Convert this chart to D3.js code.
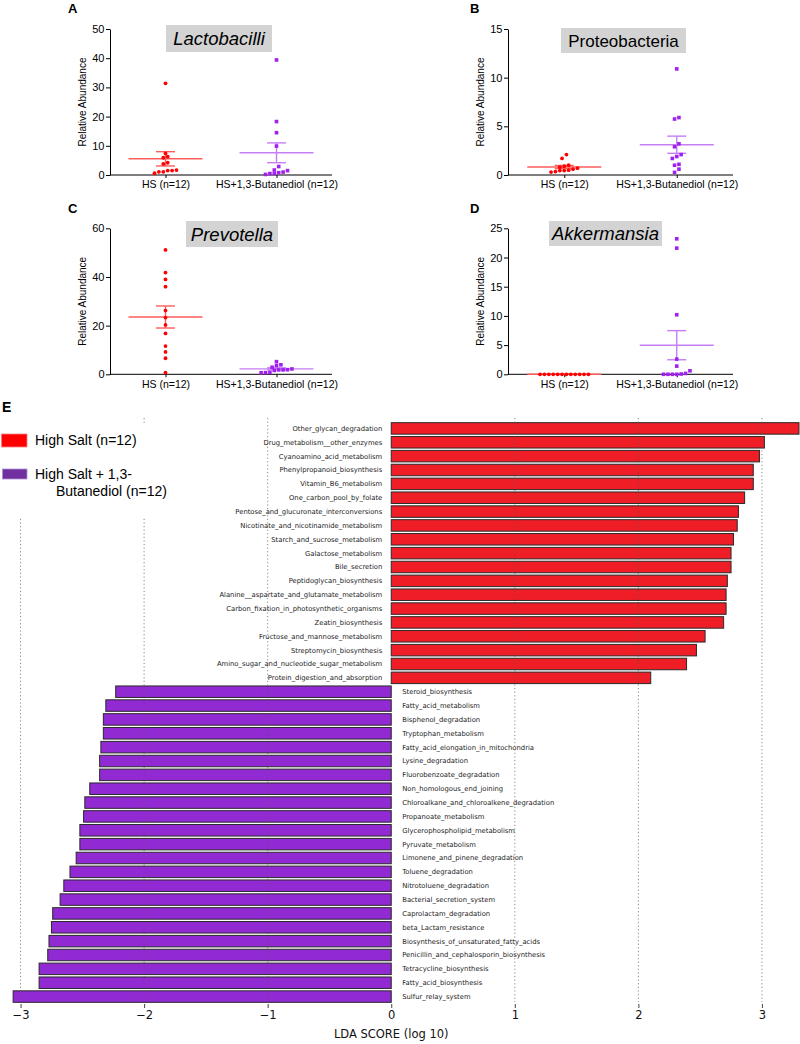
<!DOCTYPE html>
<html><head><meta charset="utf-8">
<script src="https://cdn.jsdelivr.net/npm/d3@7"></script>
<style>body{margin:0;background:#fff}svg{display:block}</style>
</head><body>
<svg id="c" width="800" height="1044"></svg>
<script>
// ---------------- DATA ----------------
const groupLabels = ["HS (n=12)", "HS+1,3-Butanediol (n=12)"];

const lactoHS  = [31.4, 7.4, 6.3, 5.9, 4.2, 3.8, 1.5, 1.1, 0.6, 1.1, 1.5, 1.7];
const lactoHSB = [39.4, 18.3, 14.5, 9.9, 2.9, 1.7, 1.0, 0.5, 0.2, 0.5, 0.8, 1.5];
const proteoHS  = [2.1, 1.7, 1.0, 0.9, 0.8, 0.7, 0.6, 0.5, 0.45, 0.35, 0.3, 0.45];
const proteoHSB = [10.9, 5.75, 5.9, 3.2, 2.9, 2.1, 1.9, 1.7, 1.1, 1.0, 0.6, 0.27];
const prevoHS  = [51.1, 41.8, 39.0, 36.0, 26.2, 23.3, 20.3, 16.8, 11.6, 9.2, 6.6, 0.7];
const prevoHSB = [5.2, 3.9, 3.6, 2.9, 2.2, 1.9, 1.8, 1.8, 1.6, 0.8, 0.7, 0.6];
const akkerHS  = [0, 0, 0, 0, 0, 0, 0, 0, 0, 0, 0, 0];
const akkerHSB = [23.2, 21.6, 10.2, 2.6, 1.4, 0.6, 0.05, 0, 0, 0, 0, 0.15];

const panelLetters = ["A", "B", "C", "D"];
const panelTitles = ["Lactobacilli", "Proteobacteria", "Prevotella", "Akkermansia"];
const panelYMax = [50, 15, 60, 25];
const panelTicks = [[0, 10, 20, 30, 40, 50], [0, 5, 10, 15], [0, 20, 40, 60], [0, 5, 10, 15, 20, 25]];
const yAxisTitle = "Relative Abundance";

const ldaRedNames = ["Other_glycan_degradation", "Drug_metabolism__other_enzymes", "Cyanoamino_acid_metabolism",
  "Phenylpropanoid_biosynthesis", "Vitamin_B6_metabolism", "One_carbon_pool_by_folate",
  "Pentose_and_glucuronate_interconversions", "Nicotinate_and_nicotinamide_metabolism",
  "Starch_and_sucrose_metabolism", "Galactose_metabolism", "Bile_secretion", "Peptidoglycan_biosynthesis",
  "Alanine__aspartate_and_glutamate_metabolism", "Carbon_fixation_in_photosynthetic_organisms",
  "Zeatin_biosynthesis", "Fructose_and_mannose_metabolism", "Streptomycin_biosynthesis",
  "Amino_sugar_and_nucleotide_sugar_metabolism", "Protein_digestion_and_absorption"];
const ldaRedScores = [3.30, 3.02, 2.98, 2.93, 2.93, 2.86, 2.81, 2.80, 2.77, 2.75, 2.75, 2.72, 2.71, 2.71, 2.69, 2.54, 2.47, 2.39, 2.10];

const ldaPurpleNames = ["Steroid_biosynthesis", "Fatty_acid_metabolism", "Bisphenol_degradation",
  "Tryptophan_metabolism", "Fatty_acid_elongation_in_mitochondria", "Lysine_degradation",
  "Fluorobenzoate_degradation", "Non_homologous_end_joining", "Chloroalkane_and_chloroalkene_degradation",
  "Propanoate_metabolism", "Glycerophospholipid_metabolism", "Pyruvate_metabolism",
  "Limonene_and_pinene_degradation", "Toluene_degradation", "Nitrotoluene_degradation",
  "Bacterial_secretion_system", "Caprolactam_degradation", "beta_Lactam_resistance",
  "Biosynthesis_of_unsaturated_fatty_acids", "Penicillin_and_cephalosporin_biosynthesis",
  "Tetracycline_biosynthesis", "Fatty_acid_biosynthesis", "Sulfur_relay_system"];
const ldaPurpleScores = [-2.23, -2.31, -2.33, -2.33, -2.35, -2.36, -2.36, -2.44, -2.48, -2.49, -2.52, -2.52,
  -2.55, -2.60, -2.65, -2.68, -2.74, -2.75, -2.77, -2.78, -2.85, -2.85, -3.06];

const ldaTicks = [-3, -2, -1, 0, 1, 2, 3];
const ldaAxisTitle = "LDA SCORE (log 10)";
const legendLabels = ["High Salt (n=12)", "High Salt + 1,3-", "Butanediol (n=12)"];

// ---------------- DRAW ----------------
const svg = d3.select("#c");
const SANS = "'Liberation Sans', Arial, sans-serif";
const DJV = "'DejaVu Sans', sans-serif";
const RED = "#ff0000", PURPLE = "#a020f0", RED_LINE = "#ff5c5c", PUR_LINE = "#c67ef6";

const panelData = [[lactoHS, lactoHSB], [proteoHS, proteoHSB], [prevoHS, prevoHSB], [akkerHS, akkerHSB]];
const layout = [
  {ax: 110, ar: 332, top: 29, bot: 175, lx: 68, ly: 13, box: [166, 25, 106, 27], fs: 18.5, italic: true},
  {ax: 508, ar: 733, top: 29, bot: 175, lx: 470, ly: 13, box: [561, 28, 125, 25], fs: 17, italic: false},
  {ax: 110, ar: 332, top: 228.3, bot: 374.3, lx: 68, ly: 213, box: [186, 221, 92, 26], fs: 18.5, italic: true},
  {ax: 508, ar: 733, top: 228.3, bot: 374.3, lx: 470, ly: 213, box: [549, 221, 113, 25], fs: 18.5, italic: true}
];

function swarm(vals, y, cx, thr, sp) {
  const pts = vals.map(v => ({v, py: y(v)})).sort((a, b) => b.py - a.py);
  const groups = []; let g = null;
  pts.forEach(p => { if (!g || g[0].py - p.py > thr) { g = [p]; groups.push(g); } else g.push(p); });
  groups.forEach(gr => gr.forEach((p, i) => p.px = cx + (i - (gr.length - 1) / 2) * sp));
  return pts;
}

panelData.forEach((pair, k) => {
  const L = layout[k];
  const g = svg.append("g");
  const y = d3.scaleLinear().domain([0, panelYMax[k]]).range([L.bot, L.top]);
  const x = d3.scalePoint().domain(groupLabels).range([L.ax, L.ar]).padding(0.5);

  // title box
  g.append("rect").attr("x", L.box[0]).attr("y", L.box[1]).attr("width", L.box[2]).attr("height", L.box[3]).attr("fill", "#d3d3d3");
  g.append("text").attr("x", L.box[0] + L.box[2] / 2).attr("y", L.box[1] + L.box[3] / 2 + L.fs * 0.36)
    .attr("text-anchor", "middle").attr("font-family", SANS).attr("font-size", L.fs)
    .attr("font-style", L.italic ? "italic" : "normal").attr("fill", "#000").text(panelTitles[k]);

  // letter
  g.append("text").attr("x", L.lx).attr("y", L.ly).attr("font-family", SANS).attr("font-weight", "bold")
    .attr("font-size", 13).text(panelLetters[k]);

  // y axis
  const ya = g.append("g").attr("transform", `translate(${L.ax},0)`)
    .call(d3.axisLeft(y).tickValues(panelTicks[k]).tickSize(4).tickSizeOuter(0).tickPadding(1.5));
  ya.selectAll("text").attr("font-family", SANS).attr("font-size", 11).attr("fill", "#000");
  ya.selectAll("line,path").attr("stroke", "#000");

  // x axis
  const xa = g.append("g").attr("transform", `translate(0,${L.bot})`)
    .call(d3.axisBottom(x).tickSize(3).tickSizeOuter(0).tickPadding(3));
  xa.select("path").attr("d", `M${L.ax},0H${L.ar}`).attr("stroke", "#000");
  xa.selectAll("line").attr("stroke", "#000");
  xa.selectAll("text").attr("font-family", SANS).attr("font-size", 10.5).attr("fill", "#000");

  // y title
  g.append("text").attr("transform", `translate(${L.ax - 24},${(L.top + L.bot) / 2}) rotate(-90)`)
    .attr("text-anchor", "middle").attr("font-family", SANS).attr("font-size", 10).text(yAxisTitle);

  // groups
  pair.forEach((vals, gi) => {
    const cx = x(groupLabels[gi]);
    const m = d3.mean(vals);
    const sem = (d3.deviation(vals) || 0) / Math.sqrt(vals.length);
    const lc = gi === 0 ? RED_LINE : PUR_LINE;
    const lg = g.append("g").attr("stroke", lc).attr("stroke-width", 1.4).attr("fill", "none");
    lg.append("line").attr("x1", cx - 37).attr("x2", cx + 37).attr("y1", y(m)).attr("y2", y(m));
    lg.append("line").attr("x1", cx).attr("x2", cx).attr("y1", y(m - sem)).attr("y2", y(m + sem));
    [m - sem, m + sem].forEach(v => lg.append("line").attr("x1", cx - 9.5).attr("x2", cx + 9.5).attr("y1", y(v)).attr("y2", y(v)));

    const pts = swarm(vals, y, cx, 4, 4.4);
    if (gi === 0) {
      g.selectAll(null).data(pts).join("circle").attr("cx", d => d.px).attr("cy", d => d.py).attr("r", 1.9).attr("fill", RED);
    } else {
      g.selectAll(null).data(pts).join("rect").attr("x", d => d.px - 1.8).attr("y", d => d.py - 1.8)
        .attr("width", 3.6).attr("height", 3.6).attr("fill", PURPLE);
    }
  });
});

// ---------------- PANEL E ----------------
const E = svg.append("g");
E.append("text").attr("x", 2).attr("y", 412).attr("font-family", SANS).attr("font-weight", "bold").attr("font-size", 14).text("E");

const names = ldaRedNames.concat(ldaPurpleNames);
const scores = ldaRedScores.concat(ldaPurpleScores);
const lx = d3.scaleLinear().domain([-3.1, 3.3]).range([8.2, 799]);
const ly = d3.scaleBand().domain(names).range([421.5, 1003.5]).paddingInner(0.17).paddingOuter(0.085);

E.selectAll(null).data(names).join("rect")
  .attr("x", (d, i) => lx(Math.min(0, scores[i])))
  .attr("width", (d, i) => Math.abs(lx(scores[i]) - lx(0)))
  .attr("y", d => ly(d)).attr("height", ly.bandwidth())
  .attr("fill", (d, i) => scores[i] > 0 ? "#ef1d26" : "#922ad3")
  .attr("stroke", "#2a2a2a").attr("stroke-width", 1);

E.selectAll(null).data(names).join("text")
  .attr("x", (d, i) => scores[i] > 0 ? lx(0) - 9 : lx(0) + 11)
  .attr("y", d => ly(d) + ly.bandwidth() / 2 + 2.4)
  .attr("text-anchor", (d, i) => scores[i] > 0 ? "end" : "start")
  .attr("font-family", DJV).attr("font-size", 6.8).attr("fill", "#222").text(d => d);

// grid
E.selectAll(null).data(ldaTicks.filter(t => t !== 0)).join("line")
  .attr("x1", d => lx(d)).attr("x2", d => lx(d)).attr("y1", 418).attr("y2", 1002)
  .attr("stroke", "#555").attr("stroke-opacity", 0.7).attr("stroke-width", 1).attr("stroke-dasharray", "1.2,2.4");

// axis
const eax = E.append("g").attr("transform", "translate(0,1004)")
  .call(d3.axisBottom(lx).tickValues(ldaTicks).tickSize(4).tickPadding(3).tickFormat(d3.format("d")));
eax.select("path").remove();
eax.selectAll("line").attr("stroke", "#444");
eax.selectAll("text").attr("font-family", DJV).attr("font-size", 11.5).attr("fill", "#111");
E.append("text").attr("x", lx(0)).attr("y", 1038).attr("text-anchor", "middle")
  .attr("font-family", DJV).attr("font-size", 11.5).attr("fill", "#111").text(ldaAxisTitle);

// legend (white background covers grid)
E.append("rect").attr("x", 0).attr("y", 416).attr("width", 140).attr("height", 102).attr("fill", "#fff");
E.append("rect").attr("x", 140).attr("y", 425).attr("width", 36).attr("height", 93).attr("fill", "#fff");
E.append("rect").attr("x", 1.5).attr("y", 434).attr("width", 25.5).attr("height", 13).attr("fill", "#ff0000").attr("stroke", "#ff8080").attr("stroke-width", 0.8);
E.append("rect").attr("x", 2.5).attr("y", 469).attr("width", 24.5).attr("height", 10).attr("fill", "#7030a0").attr("stroke", "#b090d0").attr("stroke-width", 0.8);
E.append("text").attr("x", 35).attr("y", 445).attr("font-family", SANS).attr("font-size", 14).text(legendLabels[0]);
E.append("text").attr("x", 35).attr("y", 479).attr("font-family", SANS).attr("font-size", 14).text(legendLabels[1]);
E.append("text").attr("x", 56).attr("y", 496).attr("font-family", SANS).attr("font-size", 14).text(legendLabels[2]);
</script>
</body></html>
